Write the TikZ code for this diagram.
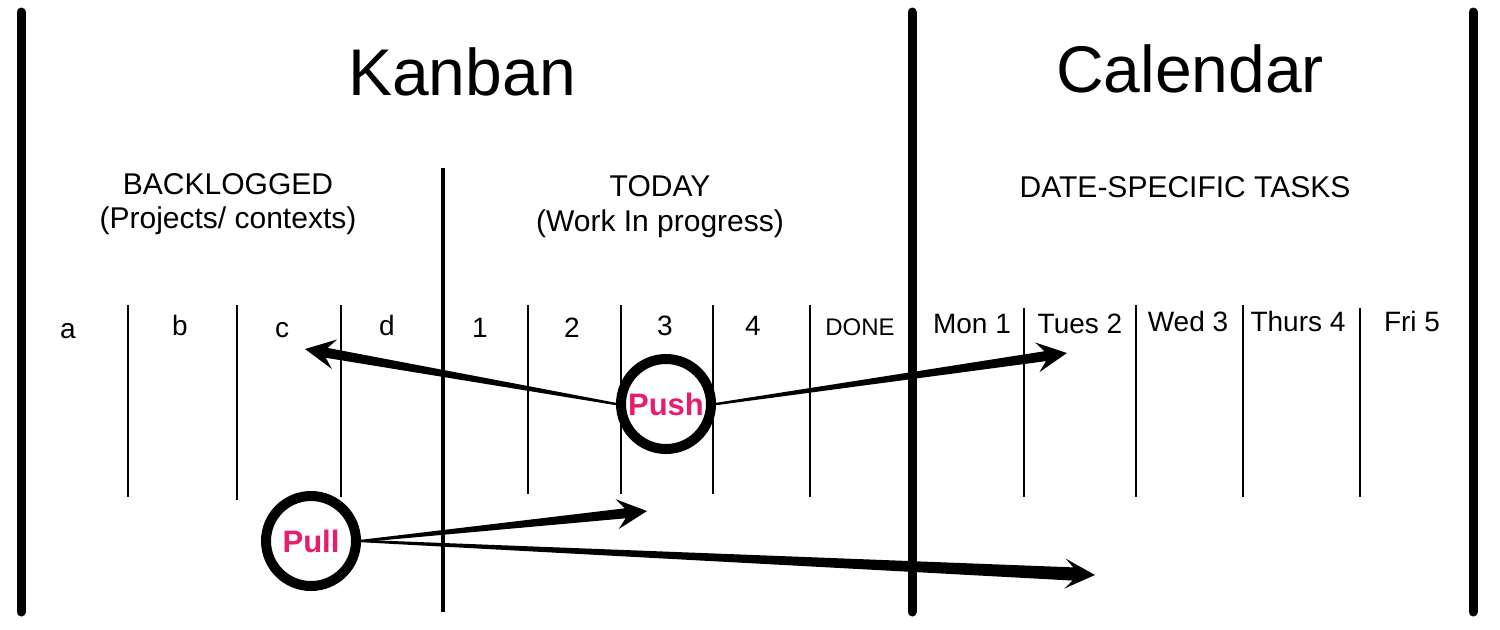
\documentclass[tikz,border=0pt]{standalone}
\usepackage{fontspec}
\setmainfont{Liberation Sans}
\usetikzlibrary{calc}
\definecolor{pushpink}{RGB}{232,28,110}
\tikzset{bigrule/.style={line width=4.5pt, line cap=round}, midrule/.style={line width=2pt}, colrule/.style={line width=0.7pt}}
\tikzset{title/.style={anchor=base, font=\fontsize{33}{36}\selectfont}, heading/.style={anchor=base, font=\fontsize{15}{17}\selectfont},
  col/.style={anchor=base, font=\fontsize{14}{16}\selectfont},
  ring/.style={circle, draw, line width=5pt, fill=white, minimum size=45pt, inner sep=0pt, text=pushpink, font=\bfseries\fontsize{15.5}{17}\selectfont}}
% tapered arrow: [half width at head] {from} {to}
\newcommand\wedgearrow[3][2.5pt]{%
  \fill let \p1=(#2), \p2=(#3), \n1={atan2(\y2-\y1,\x2-\x1)}, \n2={veclen(\x2-\x1,\y2-\y1)} in
    [shift={(\p1)}, rotate=\n1]
    (0pt,-0.6pt) -- (\n2-11pt,-#1) -- (\n2-15pt,-7.5pt) -- (\n2,0pt) -- (\n2-15pt,7.5pt) -- (\n2-11pt,#1) -- (0pt,0.6pt) -- cycle;}

\begin{document}
\begin{tikzpicture}[x=0.5pt,y=-0.5pt]
   \useasboundingbox (0,0) rectangle (1500,629);
   % frame
   \draw[bigrule] (21,12) -- (21,612);
   \draw[bigrule] (912,12) -- (912,612);
   \draw[bigrule] (1473,12) -- (1473,612);
   \draw[midrule] (443,168) -- (443,612);
   % titles
   \node[title] (kanban) at (462,95) {Kanban};
   \node[title] (calendar) at (1190,92) {Calendar};
   \node[heading] (backlog) at (228,194) {BACKLOGGED};
   \node[heading] (backlogsub) at (228,228) {(Projects/ contexts)};
   \node[heading] (today) at (660,196) {TODAY};
   \node[heading] (todaysub) at (660,231) {(Work In progress)};
   \node[heading] (dated) at (1185,197) {DATE-SPECIFIC TASKS};
   % columns
   \draw[colrule] (128,305) -- (128,497);
   \draw[colrule] (237,305) -- (237,500);
   \draw[colrule] (341,305) -- (341,497);
   \draw[colrule] (528,305) -- (528,494);
   \draw[colrule] (621,305) -- (621,494);
   \draw[colrule] (713,305) -- (713,494);
   \draw[colrule] (810,305) -- (810,497);
   \draw[colrule] (1024,308) -- (1024,497);
   \draw[colrule] (1136,305) -- (1136,497);
   \draw[colrule] (1243,305) -- (1243,497);
   \draw[colrule] (1360,308) -- (1360,497);
   \node[col] (cola) at (68,338) {a};
   \node[col] (colb) at (180,335) {b};
   \node[col] (colc) at (282,337) {c};
   \node[col] (cold) at (387,335) {d};
   \node[col] (col1) at (480,337) {1};
   \node[col] (col2) at (572,337) {2};
   \node[col] (col3) at (665,335) {3};
   \node[col] (col4) at (753,335) {4};
   \node[col, font=\fontsize{12}{14}\selectfont] (done) at (860,335) {DONE};
   \node[col] (mon) at (972,333) {Mon 1};
   \node[col] (tues) at (1080,333) {Tues 2};
   \node[col] (wed) at (1188,331) {Wed 3};
   \node[col] (thurs) at (1298,331) {Thurs 4};
   \node[col] (fri) at (1412,331) {Fri 5};
   % push / pull
   \node[ring] (push) at (666,404) {Push};
   \node[ring] (pull) at (311,541) {Pull};
   \coordinate (tipc) at (305,349);
   \coordinate (tiptues) at (1067,353);
   \coordinate (tipthree) at (647,511);
   \coordinate (tipfar) at (1095,575);
   \wedgearrow{push.west}{tipc}
   \wedgearrow{push.east}{tiptues}
   \wedgearrow{pull.east}{tipthree}
   \wedgearrow[3.3pt]{pull.east}{tipfar}
\end{tikzpicture}
\end{document}
